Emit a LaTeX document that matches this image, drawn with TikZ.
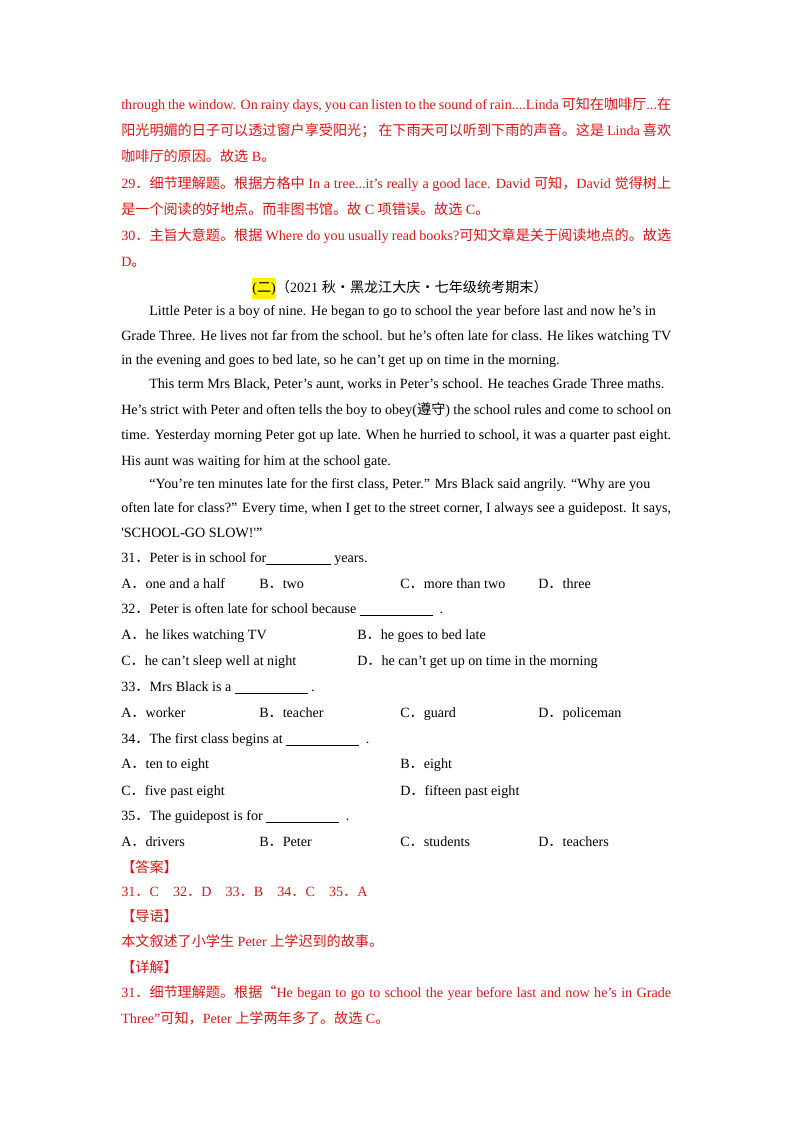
\documentclass[tikz,border=0pt]{standalone}
\usepackage{fontspec}
\setmainfont{Liberation Serif}
\newfontfamily\cjk{Noto Sans CJK SC}
\newcommand{\C}[1]{{\cjk #1}}
\definecolor{ansred}{RGB}{225,20,20}
\newcommand{\tl}[3]{\node[txt,anchor=base west] at (#1,#2+5) {#3};}
\newcommand{\jl}[2]{\node[txt,anchor=base west] at (121,#1+5) {\makebox[409pt][s]{#2}};}
\begin{document}
\begin{tikzpicture}[x=0.7438pt,y=-0.7438pt,
  txt/.style={inner sep=0pt,font=\fontsize{10.5}{12}\selectfont}]
\useasboundingbox[fill=white] (0,0) rectangle (800,1132);
\begin{scope}[every node/.append style={text=ansred}]
\jl{105}{through the window. On rainy days, you can listen to the sound of rain....Linda \C{可知在咖啡厅}...\C{在}}
\jl{131}{\C{阳光明媚的日子可以透过窗户享受阳光；} \C{在下雨天可以听到下雨的声音。这是} Linda \C{喜欢}}
\tl{121}{157}{\C{咖啡厅的原因。故选} B\C{。}}
\jl{183}{29\C{．细节理解题。根据方格中} In a tree...it's really a good lace. David \C{可知，}David \C{觉得树上}}
\tl{121}{209}{\C{是一个阅读的好地点。而非图书馆。故} C \C{项错误。故选} C\C{。}}
\jl{235}{30\C{．主旨大意题。根据} Where do you usually read books?\C{可知文章是关于阅读地点的。故选}}
\tl{121}{261}{D\C{。}}
\end{scope}
\node[txt,anchor=base] (hd) at (400,292) {\colorbox{yellow}{\rule{0pt}{7pt}\kern-3pt(\C{二})\kern-3pt}\C{（}2021 \C{秋·黑龙江大庆·七年级统考期末）}};
\node[txt,anchor=base west] at (149,315) {Little Peter is a boy of nine. He began to go to school the year before last and now he’s in};
\jl{335}{Grade Three. He lives not far from the school. but he’s often late for class. He likes watching TV}
\tl{121}{359}{in the evening and goes to bed late, so he can’t get up on time in the morning.}
\node[txt,anchor=base west] at (149,388) {This term Mrs Black, Peter’s aunt, works in Peter's school. He teaches Grade Three maths.};
\jl{409}{He’s strict with Peter and often tells the boy to obey(\C{遵守}) the school rules and come to school on}
\jl{434}{time. Yesterday morning Peter got up late. When he hurried to school, it was a quarter past eight.}
\tl{121}{460}{His aunt was waiting for him at the school gate.}
\node[txt,anchor=base west] at (149,488) {“You’re ten minutes late for the first class, Peter.” Mrs Black said angrily. “Why are you};
\jl{507}{often late for class?” Every time, when I get to the street corner, I always see a guidepost. It says,}
\tl{121}{532}{\textquotesingle SCHOOL-GO SLOW!\textquotesingle”}
\tl{121}{557}{31\C{．}Peter is in school for\underline{\hspace{48pt}} years.}
\tl{121}{583}{A\C{．}one and a half}
\tl{259}{583}{B\C{．}two}
\tl{400}{583}{C\C{．}more than two}
\tl{538}{583}{D\C{．}three}
\tl{121}{608}{32\C{．}Peter is often late for school because \underline{\hspace{54pt}}\ \ .}
\tl{121}{634}{A\C{．}he likes watching TV}
\tl{357}{634}{B\C{．}he goes to bed late}
\tl{121}{660}{C\C{．}he can’t sleep well at night}
\tl{357}{660}{D\C{．}he can’t get up on time in the morning}
\tl{121}{686}{33\C{．}Mrs Black is a \underline{\hspace{54pt}} .}
\tl{121}{712}{A\C{．}worker}
\tl{259}{712}{B\C{．}teacher}
\tl{400}{712}{C\C{．}guard}
\tl{538}{712}{D\C{．}policeman}
\tl{121}{738}{34\C{．}The first class begins at \underline{\hspace{54pt}}\ \ .}
\tl{121}{763}{A\C{．}ten to eight}
\tl{400}{763}{B\C{．}eight}
\tl{121}{790}{C\C{．}five past eight}
\tl{400}{790}{D\C{．}fifteen past eight}
\tl{121}{815}{35\C{．}The guidepost is for \underline{\hspace{54pt}}\ \ .}
\tl{121}{841}{A\C{．}drivers}
\tl{259}{841}{B\C{．}Peter}
\tl{400}{841}{C\C{．}students}
\tl{538}{841}{D\C{．}teachers}
\begin{scope}[every node/.append style={text=ansred}]
\tl{121}{867}{\C{【答案】}}
\tl{121}{891}{31\C{．}C\quad 32\C{．}D\quad 33\C{．}B\quad 34\C{．}C\quad 35\C{．}A}
\tl{121}{916}{\C{【导语】}}
\tl{121}{941}{\C{本文叙述了小学生} Peter \C{上学迟到的故事。}}
\tl{121}{967}{\C{【详解】}}
\jl{992}{31\C{．细节理解题。根据“}He began to go to school the year before last and now he’s in Grade}
\tl{121}{1018}{Three”\C{可知，}Peter \C{上学两年多了。故选} C\C{。}}
\end{scope}
\end{tikzpicture}
\end{document}
